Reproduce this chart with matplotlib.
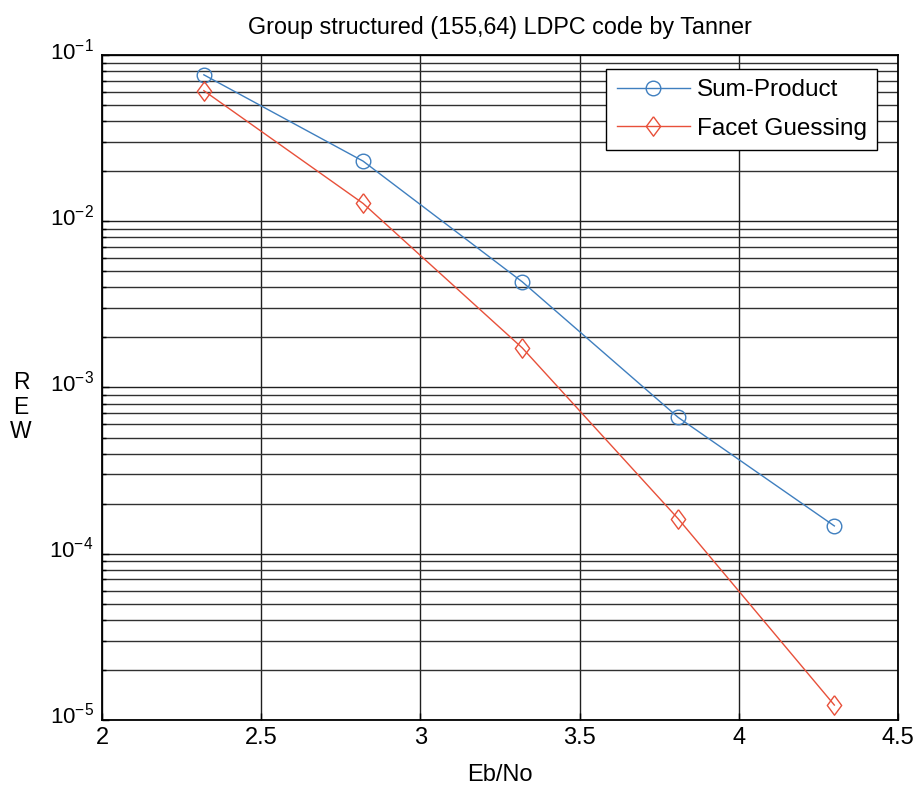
import math
import matplotlib
matplotlib.use("Agg")
import matplotlib.pyplot as plt
from matplotlib.ticker import LogLocator, FixedLocator, NullFormatter, FuncFormatter
from matplotlib.transforms import ScaledTranslation

ebno = [2.32, 2.82, 3.32, 3.81, 4.30]
sum_product = [0.076, 0.0230, 0.00432, 0.00066, 0.000147]
facet_guessing = [0.0610, 0.0128, 0.00173, 0.000162, 0.0000123]
series_names = ["Sum-Product", "Facet Guessing"]
xticks = [2, 2.5, 3, 3.5, 4, 4.5]
xticklabels = ["2", "2.5", "3", "3.5", "4", "4.5"]
yticks = [1e-5, 1e-4, 1e-3, 1e-2, 1e-1]

plt.rcParams['font.family'] = ['Liberation Sans', 'DejaVu Sans']
plt.rcParams['mathtext.fontset'] = 'custom'
plt.rcParams['mathtext.rm'] = 'Liberation Sans'
plt.rcParams['mathtext.it'] = 'Liberation Sans'

fig = plt.figure(figsize=(9.17, 7.88), dpi=100)
ax = fig.add_axes([0.1112, 0.0863, 0.8681, 0.8439])

blue = '#3f7fbf'
red = '#e8503a'
tall_diamond = [(0, 1), (0.74, 0), (0, -1), (-0.74, 0), (0, 1)]

ax.semilogy(ebno, sum_product, '-', color=blue, lw=1.0, marker='o',
            markersize=10.5, markerfacecolor='none', markeredgecolor=blue,
            markeredgewidth=1.0, label=series_names[0])
ax.semilogy(ebno, facet_guessing, '-', color=red, lw=1.0, marker=tall_diamond,
            markersize=14, markerfacecolor='none', markeredgecolor=red,
            markeredgewidth=1.0, label=series_names[1])

ax.set_xlim(2, 4.5)
ax.set_ylim(1e-5, 1e-1)
ax.set_xticks(xticks)
ax.set_xticklabels(xticklabels)
ax.yaxis.set_major_locator(FixedLocator(yticks))
ax.yaxis.set_major_formatter(FuncFormatter(lambda v, p: r"$10^{%d}$" % round(math.log10(v))))
ax.yaxis.set_minor_locator(LogLocator(base=10, subs=range(2, 10), numticks=20))
ax.yaxis.set_minor_formatter(NullFormatter())

ax.grid(True, which='major', color='#202020', lw=1.0, ls='-')
ax.grid(True, which='minor', axis='y', color='#303030', lw=1.0, ls='-')
ax.set_axisbelow(True)

ax.tick_params(which='both', direction='in', labelsize=17, length=5, width=1)
ax.tick_params(which='minor', length=3)
ax.tick_params(axis='x', pad=5)
ax.tick_params(axis='y', labelsize=16, pad=6)
for s in ax.spines.values():
    s.set_linewidth(1.3)
    s.set_color('black')

ax.set_title("Group structured (155,64) LDPC code by Tanner", fontsize=16.8, pad=15)
ax.set_xlabel("Eb/No", fontsize=17, labelpad=11)
fig.text(0.023, 0.4835, "R\nE\nW", fontsize=16.5, ha='center', va='center',
         linespacing=1.1)

leg = ax.legend(loc='upper right', bbox_to_anchor=(0.9736, 0.979), borderaxespad=0,
                frameon=True, fancybox=False, edgecolor='black', framealpha=1,
                handlelength=3.0, handletextpad=0.3, borderpad=0.42, labelspacing=0.68,
                prop={'family': 'Liberation Sans', 'size': 17.5})
leg.get_frame().set_linewidth(1.0)

fig.canvas.draw()
off = ScaledTranslation(0, -4 / 100.0, fig.dpi_scale_trans)
for tick in ax.yaxis.get_major_ticks():
    tick.label1.set_verticalalignment('baseline')
    tick.label1.set_transform(tick.label1.get_transform() + off)

fig.savefig("out.png", dpi=100)
